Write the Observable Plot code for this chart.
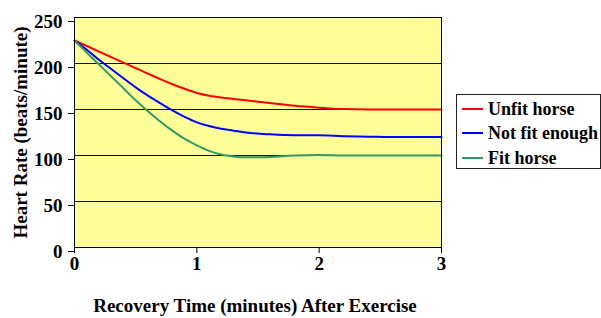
<!DOCTYPE html>
<html>
<head>
<meta charset="utf-8">
<script src="https://cdn.jsdelivr.net/npm/d3@7"></script>
<script src="https://cdn.jsdelivr.net/npm/@observablehq/plot@0.6"></script>
<style>
  body { margin: 0; background: white; }
  #wrap { position: relative; width: 601px; height: 318px; font-family: "Liberation Serif", "Times New Roman", serif; font-weight: bold; }
  #legend { position: absolute; left: 456px; top: 94px; width: 143px; height: 73px; border: 1px solid #222; background: white; box-sizing: content-box; }
  .swatch { position: absolute; left: 5px; width: 21px; height: 2px; }
  .lab { position: absolute; left: 31px; font-size: 18px; line-height: 20px; white-space: nowrap; color: black; }
</style>
</head>
<body>
<div id="wrap"></div>
<script>
const time = [0, 0.1, 0.2, 0.3, 0.4, 0.5, 0.6, 0.7, 0.8, 0.9, 1.0, 1.1, 1.2, 1.3, 1.4, 1.6, 1.8, 2.0, 2.2, 2.4, 2.6, 2.8, 3.0];
const unfitHorse = [225, 219, 213, 207, 201, 195, 189, 183, 177.5, 172.5, 168, 165, 163, 161.5, 160, 157, 154, 152, 150.5, 150, 150, 150, 150];
const notFitEnough = [225, 215, 204, 194, 184, 174, 165, 157, 149, 142, 136, 132, 129, 127, 125, 123, 122, 122, 121, 120.5, 120, 120, 120];
const fitHorse = [225, 212, 199, 186, 173, 160, 148, 137, 127, 118, 111, 105, 101, 99, 98, 98.5, 100, 100.5, 100, 100, 100, 100, 100];
const seriesNames = ["Unfit horse", "Not fit enough", "Fit horse"];
const seriesColors = ["#FF0000", "#0000FF", "#339966"];
const yTicks = [0, 50, 100, 150, 200, 250];
const xTicks = [0, 1, 2, 3];
const xTitle = "Recovery Time (minutes) After Exercise";
const yTitle = "Heart Rate (beats/minute)";

const allSeries = [unfitHorse, notFitEnough, fitHorse];
const data = [];
allSeries.forEach((vals, s) => {
  vals.forEach((v, i) => data.push({t: time[i], v, s: seriesNames[s]}));
});

const chart = Plot.plot({
  width: 601,
  height: 318,
  marginLeft: 74,
  marginRight: 160,
  marginTop: 17,
  marginBottom: 71,
  style: {fontFamily: '"Liberation Serif", "Times New Roman", serif', fontSize: "19px", fontWeight: "bold", background: "white", color: "black"},
  x: {domain: [0, 3]},
  y: {domain: [0, 250]},
  color: {domain: seriesNames, range: seriesColors},
  marks: [
    Plot.frame({fill: "#FFFF99", stroke: null}),
    Plot.ruleY(yTicks, {stroke: "#111", strokeWidth: 1}),
    Plot.line(data, {x: "t", y: "v", z: "s", stroke: "s", strokeWidth: 2, curve: "monotone-x"}),
    Plot.frame({stroke: "black", strokeWidth: 1}),
    Plot.axisY(yTicks, {tickSize: 6, tickPadding: 6, dy: 4, label: null, tickFormat: d3.format("d"), fontSize: 19}),
    Plot.axisX(xTicks, {tickSize: 6, tickPadding: 3, label: null, tickFormat: d3.format("d"), fontSize: 19}),
    Plot.text([xTitle], {frameAnchor: "bottom", dy: 58, dx: -3, text: d => d, textAnchor: "middle", lineAnchor: "middle", fontSize: 19}),
    Plot.text([yTitle], {frameAnchor: "left", dx: -54, rotate: -90, text: d => d, textAnchor: "middle", lineAnchor: "middle", fontSize: 19})
  ]
});

const wrap = document.getElementById("wrap");
wrap.appendChild(chart);

const legend = document.createElement("div");
legend.id = "legend";
const rowY = [14, 38, 63];
seriesNames.forEach((name, i) => {
  const sw = document.createElement("div");
  sw.className = "swatch";
  sw.style.top = (rowY[i] - 1) + "px";
  sw.style.background = seriesColors[i];
  legend.appendChild(sw);
  const lab = document.createElement("div");
  lab.className = "lab";
  lab.style.top = (rowY[i] - 10) + "px";
  lab.textContent = name;
  legend.appendChild(lab);
});
wrap.appendChild(legend);
</script>
</body>
</html>
